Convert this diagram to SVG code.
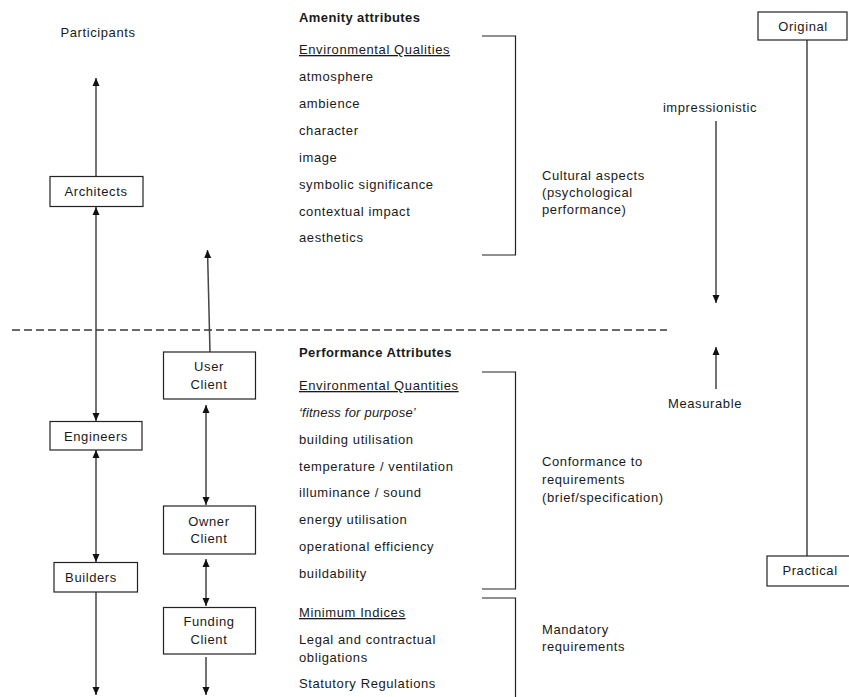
<svg xmlns="http://www.w3.org/2000/svg" width="849" height="697" viewBox="0 0 849 697">
<defs>
<style>
text{font-family:"Liberation Sans",Arial,sans-serif;font-size:13px;fill:#1a1a1a;letter-spacing:0.6px}
.b{font-weight:bold;letter-spacing:0.4px}
.u{text-decoration:underline}
.i{font-style:italic;letter-spacing:0.2px}
.c{text-anchor:middle}
.box{fill:#fff;stroke:#222;stroke-width:1.2}
.ln{stroke:#444;stroke-width:1.5;fill:none}
.br{stroke:#222;stroke-width:1.2;fill:none}
</style>
<marker id="ah" viewBox="0 0 8 8" refX="8" refY="4" markerWidth="8" markerHeight="8" markerUnits="userSpaceOnUse" orient="auto-start-reverse">
<path d="M0,0.5 L8,4 L0,7.5 z" fill="#111"/>
</marker>
</defs>
<rect width="849" height="697" fill="#fff"/>

<g id="connectors">
<line class="ln" x1="96" y1="176" x2="96" y2="78" marker-end="url(#ah)"/>
<line class="ln" x1="96" y1="207" x2="96" y2="421" marker-start="url(#ah)" marker-end="url(#ah)"/>
<line class="ln" x1="96" y1="450" x2="96" y2="562" marker-start="url(#ah)" marker-end="url(#ah)"/>
<line class="ln" x1="96" y1="592" x2="96" y2="695" marker-end="url(#ah)"/>
<line class="ln" x1="210" y1="352" x2="207.5" y2="250" marker-end="url(#ah)"/>
<line class="ln" x1="206" y1="405" x2="206" y2="505" marker-start="url(#ah)" marker-end="url(#ah)"/>
<line class="ln" x1="206" y1="559" x2="206" y2="606" marker-start="url(#ah)" marker-end="url(#ah)"/>
<line class="ln" x1="206" y1="657" x2="206" y2="695" marker-end="url(#ah)"/>
<line class="ln" x1="716" y1="121" x2="716" y2="303" marker-end="url(#ah)"/>
<line class="ln" x1="716" y1="389" x2="716" y2="347" marker-end="url(#ah)"/>
<line class="ln" x1="807" y1="40" x2="807" y2="556"/>
<line x1="12" y1="330" x2="667" y2="330" stroke="#3a3a3a" stroke-width="1.3" stroke-dasharray="8,4"/>
</g>

<g id="brackets">
<path class="br" d="M482,36 H515.5 V255 H482"/>
<path class="br" d="M482,372 H515.5 V589 H482"/>
<path class="br" d="M482,598 H515.5 V697"/>
</g>

<g id="participants"><text x="98" y="37" class="c">Participants</text></g>

<g id="architects">
<rect class="box" x="50" y="176.5" width="93" height="30"/>
<text x="96" y="196" class="c">Architects</text>
</g>
<g id="engineers">
<rect class="box" x="50" y="421.5" width="92" height="28.5"/>
<text x="96" y="441" class="c">Engineers</text>
</g>
<g id="builders">
<rect class="box" x="54" y="562.5" width="83.5" height="29.5"/>
<text x="91" y="582" class="c">Builders</text>
</g>
<g id="user-client">
<rect class="box" x="163.5" y="352" width="92" height="47"/>
<text x="209" y="371" class="c">User</text>
<text x="209" y="388.5" class="c">Client</text>
</g>
<g id="owner-client">
<rect class="box" x="163.5" y="506" width="92" height="48"/>
<text x="209" y="525.5" class="c">Owner</text>
<text x="209" y="543" class="c">Client</text>
</g>
<g id="funding-client">
<rect class="box" x="163.5" y="607.5" width="92" height="46.5"/>
<text x="209" y="626" class="c">Funding</text>
<text x="209" y="643.5" class="c">Client</text>
</g>
<g id="original">
<rect class="box" x="758" y="12" width="89" height="28"/>
<text x="803" y="31" class="c">Original</text>
</g>
<g id="practical">
<rect class="box" x="767" y="556" width="84" height="30"/>
<text x="810" y="575" class="c">Practical</text>
</g>

<g id="amenity">
<text x="299" y="22" class="b">Amenity attributes</text>
<text x="299" y="54" class="u">Environmental Qualities</text>
<text x="299" y="81">atmosphere</text>
<text x="299" y="108">ambience</text>
<text x="299" y="135">character</text>
<text x="299" y="162">image</text>
<text x="299" y="189">symbolic significance</text>
<text x="299" y="216">contextual impact</text>
<text x="299" y="242">aesthetics</text>
</g>

<g id="performance">
<text x="299" y="357" class="b">Performance Attributes</text>
<text x="299" y="390" class="u">Environmental Quantities</text>
<text x="299" y="417" class="i">‘fitness for purpose’</text>
<text x="299" y="444">building utilisation</text>
<text x="299" y="471">temperature / ventilation</text>
<text x="299" y="497">illuminance / sound</text>
<text x="299" y="524">energy utilisation</text>
<text x="299" y="551">operational efficiency</text>
<text x="299" y="578">buildability</text>
<text x="299" y="617" class="u">Minimum Indices</text>
<text x="299" y="644">Legal and contractual</text>
<text x="299" y="662">obligations</text>
<text x="299" y="688">Statutory Regulations</text>
</g>

<g id="labels">
<text x="542" y="180">Cultural aspects</text>
<text x="542" y="197">(psychological</text>
<text x="542" y="214">performance)</text>
<text x="542" y="466">Conformance to</text>
<text x="542" y="484">requirements</text>
<text x="542" y="502">(brief/specification)</text>
<text x="542" y="634">Mandatory</text>
<text x="542" y="651">requirements</text>
<text x="710" y="112" class="c">impressionistic</text>
<text x="705" y="408" class="c">Measurable</text>
</g>
</svg>
